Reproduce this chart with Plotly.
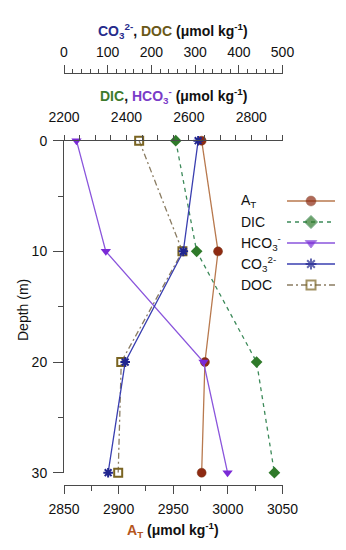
import plotly.graph_objects as go

# ---------------- data ----------------
depth = [0, 10, 20, 30]
at_vals = [2976, 2991, 2979, 2976]      # A_T (bottom axis)
dic_vals = [2558, 2625, 2817, 2874]     # DIC (middle top axis)
hco3_vals = [2240, 2334, 2647, 2724]    # HCO3- (middle top axis)
co3_vals = [307, 273, 140, 101]         # CO3 2- (upper top axis)
doc_vals = [172, 271, 131, 124]         # DOC (upper top axis)

at_ticks = [2850, 2900, 2950, 3000, 3050]
dic_ticks = [2200, 2400, 2600, 2800]
co3_ticks = [0, 100, 200, 300, 400, 500]
depth_ticks = [0, 10, 20, 30]

legend_labels = ["A<sub>T</sub>", "DIC", "HCO<sub>3</sub><sup>-</sup>",
                 "CO<sub>3</sub><sup>2-</sup>", "DOC"]

# ---------------- styles ----------------
FONT = "Arial, Liberation Sans, sans-serif"
C_AT_LINE, C_AT_MK = "#b8794e", "#8e2a12"
C_DIC_LINE, C_DIC_MK = "#3d8a5a", "#2f7a2a"
C_HCO_LINE, C_HCO_MK = "#8a55dc", "#7a2ad6"
C_CO3_LINE, C_CO3_MK = "#3a3fb0", "#20258f"
C_DOC_LINE, C_DOC_MK = "#8a7c62", "#7a6422"

styles = [
    dict(line=dict(color=C_AT_LINE, width=1.3),
         marker=dict(symbol="circle", size=9, color=C_AT_MK, line=dict(color="#7a3a1a", width=0.5))),
    dict(line=dict(color=C_DIC_LINE, width=1.3, dash="4px,4px"),
         marker=dict(symbol="diamond", size=9, color=C_DIC_MK)),
    dict(line=dict(color=C_HCO_LINE, width=1.3),
         marker=dict(symbol="triangle-down", size=9, color=C_HCO_MK)),
    dict(line=dict(color=C_CO3_LINE, width=1.3),
         marker=dict(symbol="asterisk-open", size=8, color=C_CO3_MK, line=dict(color=C_CO3_MK, width=2))),
    dict(line=dict(color=C_DOC_LINE, width=1.3, dash="6px,3px,2px,3px"),
         marker=dict(symbol="square-open", size=8, color=C_DOC_MK, line=dict(color=C_DOC_MK, width=2))),
]

fig = go.Figure()

series = [
    (at_vals, "x", 0),
    (dic_vals, "x2", 1),
    (hco3_vals, "x2", 2),
    (co3_vals, "x3", 3),
    (doc_vals, "x3", 4),
]
for vals, xa, si in [series[4], series[2], series[1], series[0], series[3]]:
    fig.add_trace(go.Scatter(x=vals, y=depth, xaxis=xa, yaxis="y",
                             mode="lines+markers", cliponaxis=False,
                             showlegend=False, **styles[si]))

# custom legend (text left, sample right)
for i, lab in enumerate(legend_labels):
    st = styles[i]
    mk = dict(st["marker"])
    mk["size"] = [0, mk["size"] + 1, 0]
    fig.add_trace(go.Scatter(x=[0, 0.5, 1], y=[i, i, i], xaxis="x5", yaxis="y5",
                             mode="lines+markers", line=st["line"], marker=mk,
                             cliponaxis=False, showlegend=False, hoverinfo="skip"))

# page has an 8px body margin: figure is shrunk so it ends at the window edge
OFF = 8
W, H = 346 - OFF, 550 - OFF
ML, MR, MT, MB = 64 - OFF, 5, 73 - OFF, 65
PW, PH = W - ML - MR, H - MT - MB


def px_x(px):
    return (px - OFF - ML) / PW


def px_y(py):
    return (H - MB - (py - OFF)) / PH


axis_common = dict(showgrid=False, zeroline=False, showline=True, linecolor="#4a4a4a",
                   linewidth=1, tickcolor="#4a4a4a", ticks="outside", automargin=False,
                   tickfont=dict(family=FONT, size=14, color="#111"))

x_dom = [0, px_x(282.5)]

fig.update_layout(
    width=W, height=H,
    margin=dict(l=ML, r=MR, t=MT, b=MB, pad=0, autoexpand=False),
    paper_bgcolor="white", plot_bgcolor="rgba(0,0,0,0)",
    font=dict(family=FONT, size=14, color="#111"),
    showlegend=False,
    xaxis=dict(domain=x_dom, range=[2850, 3050], anchor="free", position=0, side="bottom",
               tickvals=at_ticks, ticklen=8, ticklabelstandoff=3,
               minor=dict(ticks="outside", ticklen=5, tick0=2850, dtick=25, tickcolor="#4a4a4a"),
               **axis_common),
    xaxis2=dict(domain=x_dom, range=[2200, 2900], overlaying="x", anchor="y", side="top",
                tickvals=dic_ticks, ticklen=5, ticklabelstandoff=7,
                minor=dict(ticks="outside", ticklen=5, tick0=2200, dtick=50, tickcolor="#4a4a4a"),
                **axis_common),
    xaxis3=dict(domain=x_dom, range=[0, 500], overlaying="x", anchor="free", position=1, side="top",
                tickvals=co3_ticks, ticklen=8, ticklabelstandoff=2,
                minor=dict(ticks="outside", ticklen=4, tick0=0, dtick=20, tickcolor="#4a4a4a"),
                **axis_common),
    yaxis=dict(domain=[px_y(472.7), px_y(140.7)], range=[30, 0], anchor="x2",
               tickvals=depth_ticks, ticklen=10, ticklabelstandoff=3,
               minor=dict(ticks="outside", ticklen=5, tick0=0, dtick=5, tickcolor="#4a4a4a"),
               **axis_common),
    xaxis5=dict(domain=[px_x(287), px_x(335)], range=[0, 1], visible=False, anchor="y5",
                automargin=False),
    yaxis5=dict(domain=[px_y(295.5), px_y(190.5)], range=[4.5, -0.5], visible=False, anchor="x5",
                automargin=False),
)

annotations = []
cx = px_x(173)
title_font = dict(family=FONT, size=14, color="#111")
annotations.append(dict(
    xref="paper", yref="paper", x=cx, y=px_y(31), xanchor="center", yanchor="middle",
    showarrow=False,
    text=('<b><span style="color:#262b8c">CO<sub>3</sub><sup>2-</sup></span>, '
          '<span style="color:#6a5818">DOC</span> (μmol kg<sup>-1</sup>)</b>'),
    font=title_font))
annotations.append(dict(
    xref="paper", yref="paper", x=cx, y=px_y(96), xanchor="center", yanchor="middle",
    showarrow=False,
    text=('<b><span style="color:#3d7a2c">DIC</span>, '
          '<span style="color:#7a3cc8">HCO<sub>3</sub><sup>-</sup></span> (μmol kg<sup>-1</sup>)</b>'),
    font=title_font))
annotations.append(dict(
    xref="paper", yref="paper", x=cx, y=px_y(530), xanchor="center", yanchor="middle",
    showarrow=False,
    text='<b><span style="color:#b5561e">A<sub>T</sub></span> (μmol kg<sup>-1</sup>)</b>',
    font=title_font))
annotations.append(dict(
    xref="paper", yref="paper", x=px_x(23), y=px_y(310), xanchor="center", yanchor="middle",
    showarrow=False, textangle=-90,
    text="Depth (m)", font=title_font))
for i, lab in enumerate(legend_labels):
    annotations.append(dict(
        xref="paper", yref="y5", x=px_x(239), y=i, xanchor="left", yanchor="middle",
        showarrow=False, text=lab, font=title_font))
fig.update_layout(annotations=annotations)

fig.write_html("out.html")
